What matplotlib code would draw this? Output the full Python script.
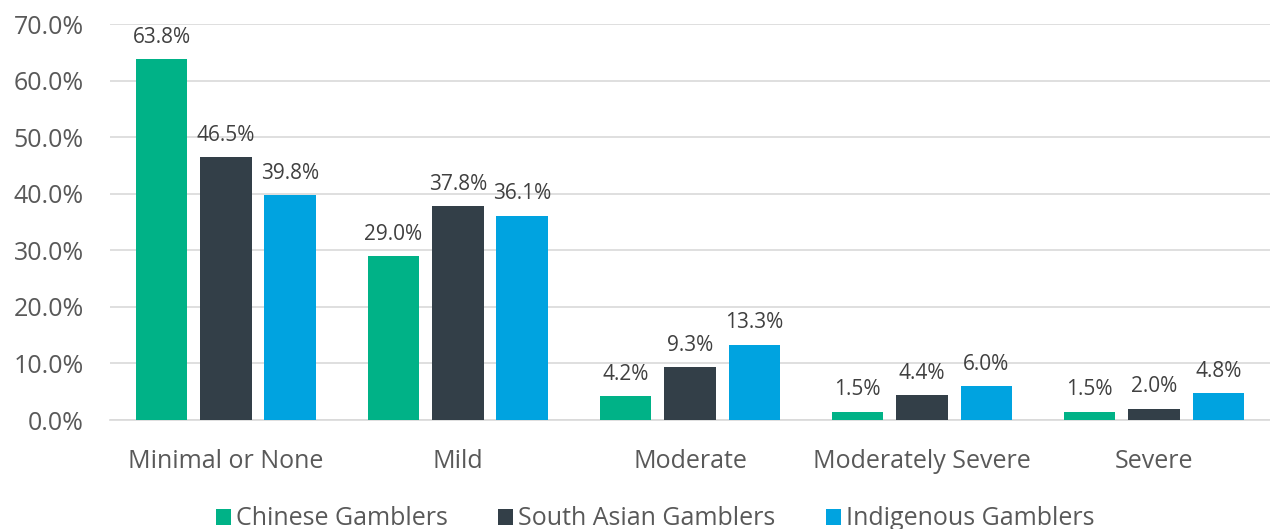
import numpy as np
import matplotlib.pyplot as plt
from matplotlib.ticker import FuncFormatter

categories = ["Minimal or None", "Mild", "Moderate", "Moderately Severe", "Severe"]
series_names = ["Chinese Gamblers", "South Asian Gamblers", "Indigenous Gamblers"]
chinese = [63.8, 29.0, 4.2, 1.5, 1.5]
south_asian = [46.5, 37.8, 9.3, 4.4, 2.0]
indigenous = [39.8, 36.1, 13.3, 6.0, 4.8]
y_ticks = [0, 10, 20, 30, 40, 50, 60, 70]

colors = ["#00B287", "#333F48", "#00A3E0"]
plt.rcParams["font.family"] = ["Open Sans", "DejaVu Sans"]

fig = plt.figure(figsize=(12.7, 5.29), dpi=100)
ax = fig.add_axes([0.0866, 0.206, 0.9134, 0.7486])

x = np.arange(len(categories))
width = 0.224
offset = 0.278
for i, (vals, name) in enumerate(zip([chinese, south_asian, indigenous], series_names)):
    pos = x + (i - 1) * offset
    ax.bar(pos, vals, width=width, color=colors[i], label=name, zorder=3)
    for p, v in zip(pos, vals):
        ax.text(p, v + 2.0, f"{v:.1f}%", ha="center", va="bottom",
                fontsize=15, color="#404040")

ax.set_xlim(-0.5, len(categories) - 0.5)
ax.set_ylim(0, 70)
ax.set_yticks(y_ticks)
ax.yaxis.set_major_formatter(FuncFormatter(lambda v, _: f"{v:.1f}%"))
ax.set_xticks(x)
ax.set_xticklabels(categories)
ax.tick_params(axis="both", length=0, labelsize=18, colors="#595959")
ax.tick_params(axis="x", pad=21)
ax.tick_params(axis="y", pad=19)
ax.grid(axis="y", color="#D9D9D9", linewidth=1.2, zorder=0)
for s in ["top", "right", "left"]:
    ax.spines[s].set_visible(False)
ax.spines["bottom"].set_color("#D9D9D9")
ax.spines["bottom"].set_linewidth(1.2)

ax.legend(loc="lower center", bbox_to_anchor=(0.47, -0.313), ncol=3, frameon=False,
          fontsize=18, handlelength=0.6, handleheight=0.6, handletextpad=0.2,
          columnspacing=2.0, labelcolor="#595959", borderpad=0)

fig.savefig("out.png", dpi=100)
